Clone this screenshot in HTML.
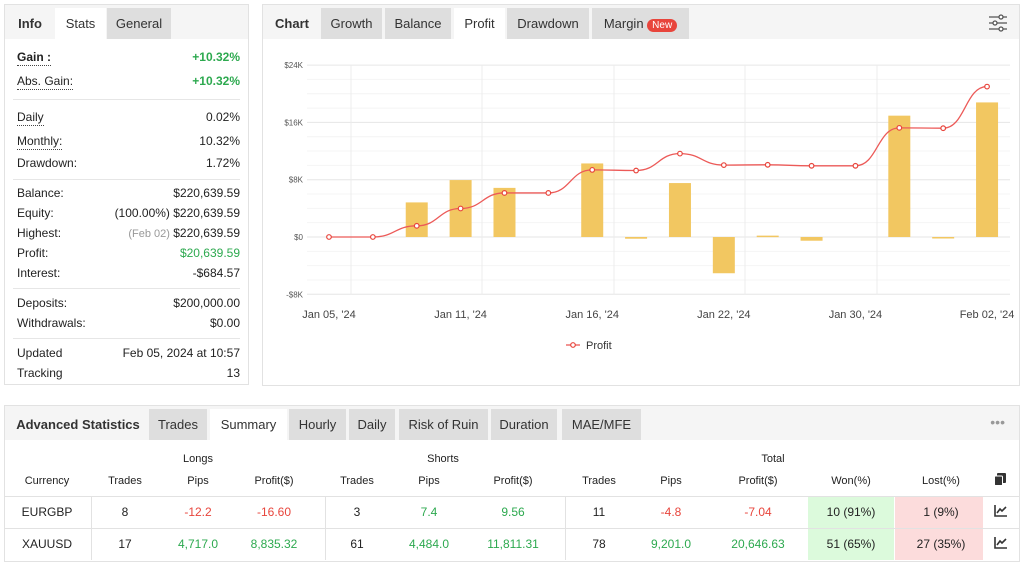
<!DOCTYPE html>
<html><head><meta charset="utf-8"><style>
*{box-sizing:border-box;margin:0;padding:0}
body{width:1024px;height:564px;background:#fff;font-family:"Liberation Sans",sans-serif;color:#222;position:relative;overflow:hidden;font-size:12px}
.abs{position:absolute}
.panel{position:absolute;border:1px solid #e2e2e2;background:#fff}
.tabbar{position:absolute;left:0;right:0;top:0;height:34px;background:#f5f5f5}
.tab{position:absolute;top:3px;height:31px;line-height:31px;text-align:center;font-size:13px;color:#333;background:#dedede}
.tab.act{background:#fff}
.tab.lbl{background:transparent;font-weight:bold}
.row{position:absolute;left:12px;right:8px;font-size:12px;height:16px;line-height:16px}
.row .l{position:absolute;left:0}
.row .r{position:absolute;right:0}
.u{border-bottom:1px dotted #444}
.sep{position:absolute;left:8px;right:8px;height:1px;background:#e6e6e6}
.g{color:#2da94f}.rd{color:#e8453c}
.th,.td{position:absolute;transform:translateX(-50%);font-size:11px;white-space:nowrap}
.td{font-size:12px}
</style></head><body>

<div class="panel" style="left:4px;top:4px;width:245px;height:381px">
 <div class="tabbar">
  <div class="tab lbl" style="left:2px;width:46px">Info</div>
  <div class="tab act" style="left:50px;width:51px">Stats</div>
  <div class="tab" style="left:102px;width:64px">General</div>
 </div>
 <div class="row" style="top:44px"><span class="l u" style="font-weight:bold">Gain :</span><span class="r g" style="font-weight:bold">+10.32%</span></div>
 <div class="row" style="top:68px"><span class="l u">Abs. Gain:</span><span class="r g" style="font-weight:bold">+10.32%</span></div>
 <div class="sep" style="top:94px"></div>
 <div class="row" style="top:104px"><span class="l u">Daily</span><span class="r">0.02%</span></div>
 <div class="row" style="top:128px"><span class="l u">Monthly:</span><span class="r">10.32%</span></div>
 <div class="row" style="top:150px"><span class="l">Drawdown:</span><span class="r">1.72%</span></div>
 <div class="sep" style="top:174px"></div>
 <div class="row" style="top:180px"><span class="l">Balance:</span><span class="r">$220,639.59</span></div>
 <div class="row" style="top:200px"><span class="l">Equity:</span><span class="r">(100.00%) $220,639.59</span></div>
 <div class="row" style="top:220px"><span class="l">Highest:</span><span class="r"><span style="color:#999;font-size:11px">(Feb 02)</span> $220,639.59</span></div>
 <div class="row" style="top:240px"><span class="l">Profit:</span><span class="r g">$20,639.59</span></div>
 <div class="row" style="top:260px"><span class="l">Interest:</span><span class="r">-$684.57</span></div>
 <div class="sep" style="top:283px"></div>
 <div class="row" style="top:290px"><span class="l">Deposits:</span><span class="r">$200,000.00</span></div>
 <div class="row" style="top:310px"><span class="l">Withdrawals:</span><span class="r">$0.00</span></div>
 <div class="sep" style="top:333px"></div>
 <div class="row" style="top:340px"><span class="l">Updated</span><span class="r">Feb 05, 2024 at 10:57</span></div>
 <div class="row" style="top:360px"><span class="l">Tracking</span><span class="r">13</span></div>
</div>

<div class="panel" style="left:262px;top:4px;width:758px;height:382px">
 <div class="tabbar">
  <div class="tab lbl" style="left:6px;width:46px">Chart</div>
  <div class="tab" style="left:58px;width:61px">Growth</div>
  <div class="tab" style="left:122px;width:66px">Balance</div>
  <div class="tab act" style="left:191px;width:51px">Profit</div>
  <div class="tab" style="left:244px;width:82px">Drawdown</div>
  <div class="tab" style="left:329px;width:97px">Margin <span style="background:#e8453c;color:#fff;font-size:10px;border-radius:7px;padding:1px 5px">New</span></div>
  <svg class="abs" style="left:725px;top:9px" width="20" height="18" viewBox="0 0 20 18"><g stroke="#555" stroke-width="1.3" fill="#fff"><line x1="1" y1="3" x2="19" y2="3"/><line x1="1" y1="9" x2="19" y2="9"/><line x1="1" y1="15" x2="19" y2="15"/><circle cx="13" cy="3" r="2"/><circle cx="7" cy="9" r="2"/><circle cx="13" cy="15" r="2"/></g></svg>
 </div>
</div>
<svg id="chart" class="abs" style="left:0;top:0" width="1024" height="400"></svg>

<div class="panel" style="left:4px;top:405px;width:1016px;height:157px">
 <div class="tabbar" style="height:34px">
  <div class="tab lbl" style="left:4px;width:138px">Advanced Statistics</div>
  <div class="tab" style="left:144px;width:58px">Trades</div>
  <div class="tab act" style="left:205px;width:77px">Summary</div>
  <div class="tab" style="left:284px;width:57px">Hourly</div>
  <div class="tab" style="left:344px;width:46px">Daily</div>
  <div class="tab" style="left:394px;width:89px">Risk of Ruin</div>
  <div class="tab" style="left:486px;width:66px">Duration</div>
  <div class="tab" style="left:557px;width:79px">MAE/MFE</div>
  <div class="abs" style="right:14px;top:8px;color:#999;font-size:14px">•••</div>
 </div>
</div>
<div class="abs" style="left:808px;top:497px;width:86px;height:63px;background:#dcfadc"></div>
<div class="abs" style="left:895px;top:497px;width:88px;height:63px;background:#fcdcdc"></div>
<div class="abs" style="left:5px;top:496px;width:1014px;height:1px;background:#e2e2e2"></div>
<div class="abs" style="left:5px;top:528px;width:1014px;height:1px;background:#e2e2e2"></div>
<div class="abs" style="left:91px;top:497px;width:1px;height:63px;background:#e2e2e2"></div>
<div class="abs" style="left:325px;top:497px;width:1px;height:63px;background:#e2e2e2"></div>
<div class="abs" style="left:565px;top:497px;width:1px;height:63px;background:#e2e2e2"></div>
<svg class="abs" style="left:994px;top:473px" width="12" height="13" viewBox="0 0 12 13"><rect x="3" y="0" width="9" height="10" rx="1" fill="#333"/><rect x="0.5" y="3" width="8" height="9.5" rx="1" fill="#333" stroke="#fff" stroke-width="1"/></svg>
<svg class="abs" style="left:994px;top:505px" width="13" height="12" viewBox="0 0 13 12"><path d="M1 0V11H13" fill="none" stroke="#333" stroke-width="1.6"/><path d="M3 8L6 4L8 6L12 2" fill="none" stroke="#333" stroke-width="1.6"/></svg>
<svg class="abs" style="left:994px;top:537px" width="13" height="12" viewBox="0 0 13 12"><path d="M1 0V11H13" fill="none" stroke="#333" stroke-width="1.6"/><path d="M3 8L6 4L8 6L12 2" fill="none" stroke="#333" stroke-width="1.6"/></svg>
<div id="tbl"></div>

<script>
// chart data
const categories=["Jan 05","Jan 06","Jan 08","Jan 11","Jan 12","Jan 15","Jan 16","Jan 17","Jan 19","Jan 22","Jan 23","Jan 26","Jan 30","Jan 31","Feb 01","Feb 02"];
const barValues=[0,0,4830,7950,6860,0,10270,-240,7530,-5060,190,-520,0,16940,-100,18790];
const lineValues=[0,0,1560,3980,6150,6150,9370,9280,11640,10040,10080,9940,9940,15240,15190,21000];
const yTicks=[24000,16000,8000,0,-8000];
const yTickLabels=["$24K","$16K","$8K","$0","-$8K"];
const xLabelIdx=[0,3,6,9,12,15];
const xLabels=["Jan 05, '24","Jan 11, '24","Jan 16, '24","Jan 22, '24","Jan 30, '24","Feb 02, '24"];

const NS="http://www.w3.org/2000/svg";
const svg=document.getElementById('chart');
const x0=329,dx=43.87,y0=237,k=57.3/8000;
const X=i=>x0+i*dx, Y=v=>y0-v*k;
function el(t,a){const e=document.createElementNS(NS,t);for(const n in a)e.setAttribute(n,a[n]);svg.appendChild(e);return e;}
for(let v=-8000;v<=24000;v+=2000){const g=el('line',{x1:307,x2:1010,y1:Y(v),y2:Y(v),stroke:v%8000===0?'#e6e6e6':'#f4f4f4'});

}
[351,482,614,745,877].forEach(x=>{const g=el('line',{x1:x,x2:x,y1:Y(24000),y2:Y(-8000),stroke:'#ececec'});

});
yTicks.forEach((v,i)=>{const t=el('text',{x:303,y:Y(v)+3,'text-anchor':'end','font-size':8,fill:'#555','font-family':'Liberation Sans'});t.textContent=yTickLabels[i];

});
xLabelIdx.forEach((ci,i)=>{const t=el('text',{x:X(ci),y:318,'text-anchor':'middle','font-size':11,fill:'#444','font-family':'Liberation Sans'});t.textContent=xLabels[i];

});
barValues.forEach((v,i)=>{if(v===0)return;const h=Math.max(Math.abs(v)*k,1.5);const r=el('rect',{x:X(i)-11,y:v>0?Y(v):y0,width:22,height:h,fill:'#f2c761'});

});
let d='M'+X(0)+','+Y(lineValues[0]);
for(let i=0;i<lineValues.length-1;i++){const xa=X(i),xb=X(i+1),ya=Y(lineValues[i]),yb=Y(lineValues[i+1]),c=(xb-xa)/2;d+=` C${xa+c},${ya} ${xb-c},${yb} ${xb},${yb}`;}
const p=el('path',{d:d,fill:'none',stroke:'#ec5a58','stroke-width':1.3});


lineValues.forEach((v,i)=>{const c=el('circle',{cx:X(i),cy:Y(v),r:2.3,fill:'#fff',stroke:'#e8453c','stroke-width':1.2});

});
const lg=el('line',{x1:566,x2:580,y1:345,y2:345,stroke:'#ec5a58','stroke-width':1.3});


el('circle',{cx:573,cy:345,r:2.3,fill:'#fff',stroke:'#e8453c','stroke-width':1.2});
const lt=el('text',{x:586,y:349,'font-size':11,fill:'#333','font-family':'Liberation Sans'});lt.textContent='Profit';



const tbl=document.getElementById('tbl');
function txt(cls,x,y,s,color){const d=document.createElement('div');d.className=cls;d.style.left=x+'px';d.style.top=y+'px';if(color)d.style.color=color;d.textContent=s;tbl.appendChild(d);return d;}
[["Longs",198],["Shorts",443],["Total",773]].forEach(a=>{const d=txt('th',a[1],453,a[0]);

});
const cols=[47,125,198,274,357,429,513,599,671,758,851,941];
["Currency","Trades","Pips","Profit($)","Trades","Pips","Profit($)","Trades","Pips","Profit($)","Won(%)","Lost(%)"].forEach((s,i)=>{const d=txt('th',cols[i],475,s);

});
const G='#2da94f',R='#e8453c';
const rows=[
 [["EURGBP"],["8"],["-12.2",R],["-16.60",R],["3"],["7.4",G],["9.56",G],["11"],["-4.8",R],["-7.04",R],["10 (91%)"],["1 (9%)"]],
 [["XAUUSD"],["17"],["4,717.0",G],["8,835.32",G],["61"],["4,484.0",G],["11,811.31",G],["78"],["9,201.0",G],["20,646.63",G],["51 (65%)"],["27 (35%)"]]];
rows.forEach((r,ri)=>{r.forEach((c,i)=>{const d=txt('td',cols[i],505+ri*32,c[0],c[1]);

});});
</script>
</body></html>
